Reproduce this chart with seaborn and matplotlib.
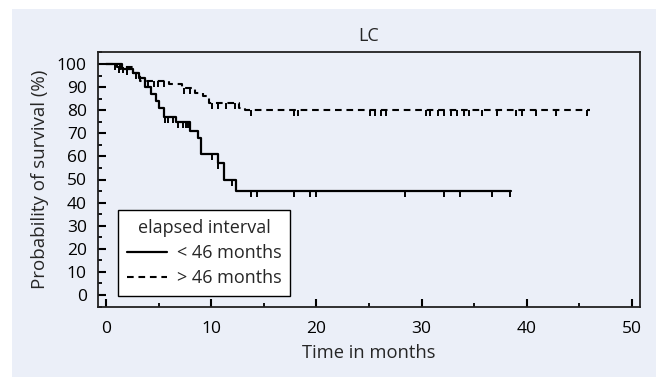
import numpy as np
import pandas as pd
import matplotlib.pyplot as plt
import matplotlib.patches as mpatches
from matplotlib.ticker import MultipleLocator
import seaborn as sns

# Kaplan-Meier steps
short_times = [0, 1.5, 2.5, 3.1, 3.7, 4.2, 4.7, 5.0, 5.5, 6.6, 8.0, 8.7, 9.0, 10.6, 11.2, 12.3, 38.5]
short_surv = [100, 98, 96, 94, 90, 87, 84, 81, 77, 75, 71, 68, 61, 57, 50, 45, 45]
short_censor = [0.8, 1.3, 2.0, 2.8, 5.6, 5.9, 6.3, 6.8, 7.3, 7.6, 7.8, 10.1, 10.6, 12.0,
                13.8, 14.3, 17.9, 19.4, 20.0, 28.4, 32.1, 33.7, 36.7, 38.4]

long_times = [0, 1.0, 2.5, 3.2, 6.0, 7.2, 8.4, 9.2, 9.8, 12.6, 13.2, 46.0]
long_surv = [100, 98.5, 96, 92.5, 91.5, 89.5, 87.5, 86, 83, 81, 80, 80]
long_censor = [1.2, 1.6, 2.0, 4.0, 4.5, 4.9, 5.5, 7.4, 8.0, 10.1, 10.6, 11.4, 12.2, 13.8,
               17.9, 18.2, 25.1, 25.6, 26.1, 26.6, 30.4, 30.8, 31.6, 32.1, 32.8, 33.4,
               34.0, 34.5, 35.8, 37.2, 39.0, 39.6, 40.9, 42.8, 45.8]

group_labels = ['< 46 months', '> 46 months']


def step_value(times, surv, t):
    idx = np.searchsorted(times, t, side='right') - 1
    return np.asarray(surv)[idx]


sns.set_style('ticks')
plt.rcParams['font.family'] = ['Open Sans', 'DejaVu Sans']
plt.rcParams['font.size'] = 12.5

bg = '#ebeff8'
fig = plt.figure(figsize=(6.56, 3.77), dpi=100, facecolor='white')
fig.patches.append(mpatches.Rectangle((12 / 656, 0), 1, 1 - 9 / 377, transform=fig.transFigure,
                                      facecolor=bg, edgecolor='none', zorder=-5))
ax = fig.add_axes([98 / 656, 1 - 307 / 377, 542 / 656, 255 / 377])
ax.set_facecolor(bg)

short_df = pd.DataFrame({'Time': short_times, 'Survival': short_surv})
long_df = pd.DataFrame({'Time': long_times, 'Survival': long_surv})

sns.lineplot(data=short_df, x='Time', y='Survival', ax=ax, color='black', linewidth=1.6,
             drawstyle='steps-post', label=group_labels[0], estimator=None, sort=False)
sns.lineplot(data=long_df, x='Time', y='Survival', ax=ax, color='black', linewidth=1.5,
             linestyle=(0, (3.2, 2.3)), drawstyle='steps-post', label=group_labels[1],
             estimator=None, sort=False)

# censoring ticks
ax.plot(short_censor, step_value(short_times, short_surv, short_censor), linestyle='none',
        marker=3, markersize=4.5, markeredgewidth=1.4, color='black')
ax.plot(long_censor, step_value(long_times, long_surv, long_censor), linestyle='none',
        marker=3, markersize=4.5, markeredgewidth=1.4, color='black')

ax.set_xlim(-0.8, 50.8)
ax.set_ylim(-5.2, 105.2)
ax.set_xticks(range(0, 51, 10))
ax.set_yticks(range(0, 101, 10))
ax.xaxis.set_minor_locator(MultipleLocator(5))
ax.yaxis.set_minor_locator(MultipleLocator(5))
ax.tick_params(which='major', direction='in', length=6, width=1.5, colors='black',
               labelsize=12.5)
ax.tick_params(axis='x', which='major', pad=10)
ax.tick_params(axis='y', which='major', pad=8)
ax.tick_params(which='minor', direction='in', length=3, width=1.3, colors='black')
for side in ['top', 'right', 'bottom', 'left']:
    ax.spines[side].set_visible(True)
    ax.spines[side].set_linewidth(1.3)
    ax.spines[side].set_color('#222222')

ax.set_title('LC', fontsize=13, pad=8)
ax.set_xlabel('Time in months', fontsize=13.2, labelpad=5)
ax.set_ylabel('Probability of survival (%)', fontsize=13.5, labelpad=6)

leg = ax.legend(title='elapsed interval', loc='lower left', bbox_to_anchor=(0.037, 0.043),
                borderaxespad=0, fancybox=False, framealpha=1, edgecolor='black',
                handlelength=2.2, fontsize=13, title_fontsize=13, borderpad=0.5,
                labelspacing=0.38, handletextpad=0.55)
leg.get_frame().set_linewidth(1.0)

fig.savefig('out.png', dpi=100, facecolor=fig.get_facecolor())
